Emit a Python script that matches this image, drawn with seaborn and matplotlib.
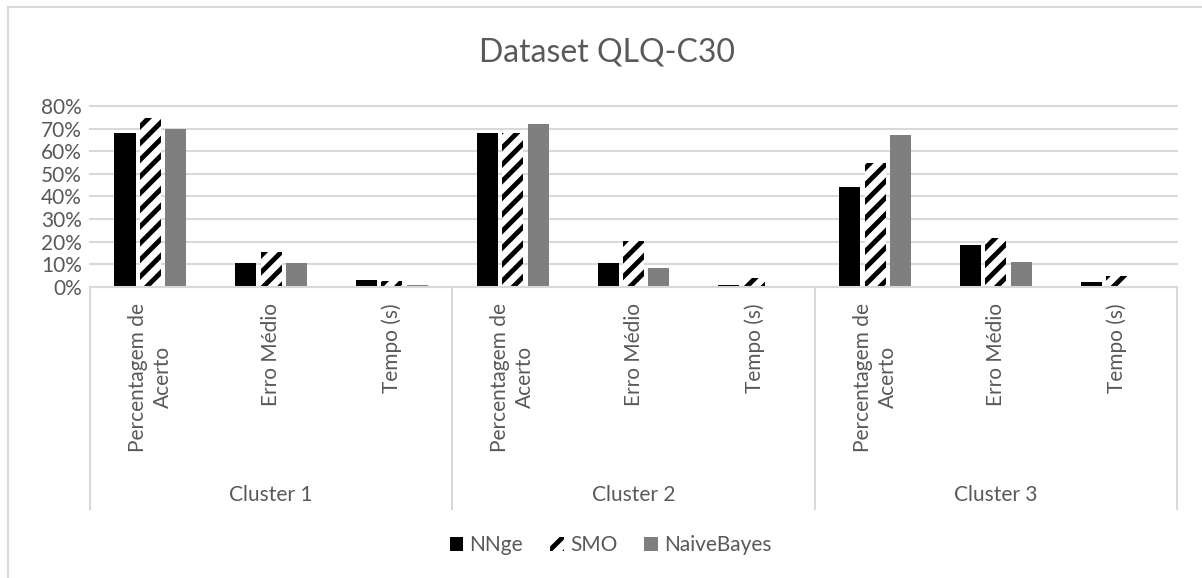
import matplotlib
matplotlib.use("Agg")
import matplotlib.pyplot as plt
import matplotlib.transforms as mtransforms
from matplotlib.patches import Patch
from matplotlib.ticker import PercentFormatter
from matplotlib.lines import Line2D
import numpy as np
import pandas as pd
import seaborn as sns

# dados (fração, 0.68 = 68%)
clusters = ["Cluster 1", "Cluster 2", "Cluster 3"]
metricas = ["Percentagem de\nAcerto", "Erro Médio", "Tempo (s)"]
modelos = ["NNge", "SMO", "NaiveBayes"]

nnge = [0.68, 0.105, 0.03, 0.68, 0.105, 0.01, 0.44, 0.185, 0.022]
smo = [0.745, 0.155, 0.028, 0.68, 0.205, 0.04, 0.55, 0.215, 0.05]
naive_bayes = [0.70, 0.105, 0.01, 0.72, 0.085, 0.0, 0.67, 0.11, 0.0]

cor_texto = "#595959"
cor_grade = "#d9d9d9"
cinza = "#7f7f7f"

plt.rcParams["font.family"] = ["Lato", "DejaVu Sans"]
plt.rcParams["hatch.linewidth"] = 3.5

# tabela longa para o seaborn
cats = [f"{c}|{m}" for c in clusters for m in metricas]
df = pd.DataFrame({
    "cat": cats * 3,
    "modelo": ["NNge"] * 9 + ["SMO"] * 9 + ["NaiveBayes"] * 9,
    "valor": nnge + smo + naive_bayes,
})

fig = plt.figure(figsize=(12.02, 5.78), dpi=100)
ax = fig.add_axes([90 / 1202, 1 - 287 / 578, 1087 / 1202, 181 / 578])

sns.barplot(data=df, x="cat", y="valor", hue="modelo", order=cats,
            hue_order=modelos, palette={"NNge": "black", "SMO": "white", "NaiveBayes": cinza},
            width=0.63, gap=0.17, ax=ax, legend=False, saturation=1)

for barra in ax.containers[1]:
    barra.set_hatch("//")
    barra.set_edgecolor("black")
    barra.set_linewidth(0)

ax.set_ylim(0, 0.8)
ax.set_xlim(-0.5, 8.5)
ax.set_yticks(np.arange(0, 0.81, 0.1))
ax.yaxis.set_major_formatter(PercentFormatter(1.0, decimals=0))
ax.grid(axis="y", color=cor_grade, linewidth=1.5)
ax.set_axisbelow(True)
for l in ax.get_ygridlines():
    l.set_clip_on(False)
ax.tick_params(axis="y", length=0, labelsize=15, labelcolor=cor_texto, pad=6)
ax.set_xticks([])
ax.set_xlabel("")
ax.set_ylabel("")
for s in ["top", "right", "left"]:
    ax.spines[s].set_visible(False)
ax.spines["bottom"].set_color(cor_grade)
ax.spines["bottom"].set_linewidth(1.5)

trans = mtransforms.blended_transform_factory(ax.transData, ax.transAxes)
for i, c in enumerate(cats):
    ax.text(i, -0.088, c.split("|")[1], rotation=90, ha="center", va="top",
            multialignment="center", linespacing=1.3, fontsize=15,
            color=cor_texto, transform=trans)
for j, c in enumerate(clusters):
    ax.text(3 * j + 1, -1.149, c, ha="center", va="center", fontsize=15,
            color=cor_texto, transform=trans)
for x in [-0.5, 2.5, 5.5, 8.5]:
    ax.plot([x, x], [0, -1.227], color=cor_grade, lw=1.5, transform=trans, clip_on=False)

fig.text(0.505, 1 - 52 / 578, "Dataset QLQ-C30", ha="center", va="center",
         fontsize=23, color=cor_texto)

handles = [Patch(facecolor="black"),
           Patch(facecolor="white", edgecolor="black", hatch="//", linewidth=0),
           Patch(facecolor=cinza)]
fig.legend(handles, modelos, loc="center", bbox_to_anchor=(0.508, 1 - 545 / 578),
           ncol=3, frameon=False, fontsize=15, labelcolor=cor_texto,
           handlelength=0.65, handleheight=0.65, handletextpad=0.3, columnspacing=1.3)

# moldura do gráfico
fig.add_artist(Line2D([8 / 1202, 1], [1 - 7 / 578, 1 - 7 / 578], color=cor_grade, lw=1.5))
fig.add_artist(Line2D([8 / 1202, 8 / 1202], [0, 1 - 7 / 578], color=cor_grade, lw=1.5))

fig.savefig("out.png", dpi=100, facecolor="white")
